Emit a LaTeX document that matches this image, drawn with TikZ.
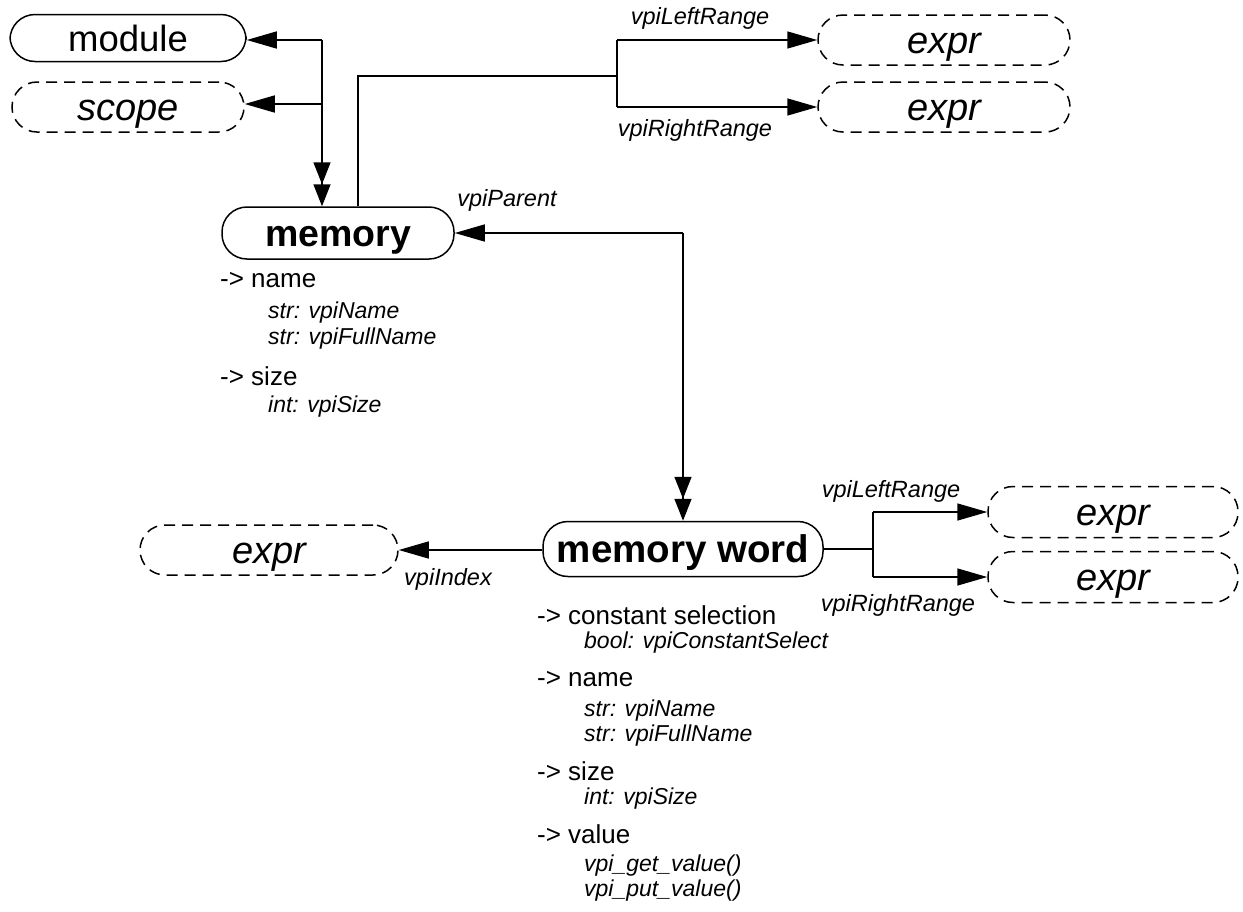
\documentclass[tikz,border=0pt]{standalone}
\usepackage{fontspec}
\setmainfont{Liberation Sans}
\usetikzlibrary{arrows.meta}
\begin{document}
\begin{tikzpicture}[x=1pt,y=-1pt,
  obj/.style={draw,line width=1.5pt,rounded corners=25pt,inner sep=0pt,text height=26pt,text depth=0pt,font=\fontsize{36.5}{40}\selectfont},
  refobj/.style={obj,dashed,dash pattern=on 11pt off 7pt,font=\fontsize{38}{40}\selectfont\itshape},
  lbl/.style={inner sep=0pt,font=\fontsize{23.5}{26}\selectfont\itshape},
  attr/.style={inner sep=0pt,anchor=west,font=\fontsize{26}{30}\selectfont},
  sub/.style={inner sep=0pt,anchor=west,font=\fontsize{23}{26}\selectfont\itshape},
  con/.style={line width=1.5pt},
  arr/.style={con,-{Triangle[length=30pt,width=17pt]}},
  darr/.style={con,-{Triangle[length=22pt,width=17pt,sep=0pt]Triangle[length=22pt,width=17pt]}}
]
\path[use as bounding box] (0,0) rectangle (1243,911);

% nodes
\node[obj,minimum width=236pt,minimum height=47pt] (module) at (128,38) {module};
\node[refobj,minimum width=232pt,minimum height=50pt] (scope) at (128,107) {scope};
\node[obj,minimum width=232pt,minimum height=52pt,font=\fontsize{37.5}{40}\selectfont\bfseries] (memory) at (338,233) {memory};
\node[refobj,minimum width=252pt,minimum height=50pt] (exprLa) at (944,40) {expr};
\node[refobj,minimum width=252pt,minimum height=50pt] (exprLb) at (944,107) {expr};
\node[obj,minimum width=280pt,minimum height=55pt,font=\fontsize{38.5}{40}\selectfont\bfseries] (mword) at (683,549) {memory word};
\node[refobj,minimum width=258pt,minimum height=50pt] (exprIdx) at (269,550) {expr};
\node[refobj,minimum width=250pt,minimum height=51pt] (exprRa) at (1113,512) {expr};
\node[refobj,minimum width=250pt,minimum height=51pt] (exprRb) at (1113,577) {expr};

% junctions
\coordinate (jA) at (322,40);
\coordinate (jB) at (617,76);
\coordinate (jD) at (873,549);

% connectors
\draw[arr] (jA) -- (module.east |- jA);
\draw[arr] (jA |- 0,104) -- (scope.east |- 0,104);
\draw[darr] (jA) -- (jA |- memory.north);
\draw[con] ([xshift=20pt]memory.north) |- (jB);
\draw[con] (jB |- exprLa.west) -- (jB |- exprLb.west);
\draw[arr] (jB |- exprLa.west) -- (exprLa.west);
\draw[arr] (jB |- exprLb.west) -- (exprLb.west);
\draw[arr] (mword.north |- memory.east) -- (memory.east);
\draw[darr] (mword.north |- memory.east) -- (mword.north);
\draw[arr] (mword.west |- exprIdx.east) -- (exprIdx.east);
\draw[con] (mword.east) -- (jD);
\draw[con] (jD |- exprRa.west) -- (jD |- exprRb.west);
\draw[arr] (jD |- exprRa.west) -- (exprRa.west);
\draw[arr] (jD |- exprRb.west) -- (exprRb.west);

% labels
\node[lbl] (l1) at (700,18) {vpiLeftRange};
\node[lbl] (l2) at (695,130) {vpiRightRange};
\node[lbl] (l3) at (507,200) {vpiParent};
\node[lbl] (l4) at (448,579) {vpiIndex};
\node[lbl] (l5) at (891,491) {vpiLeftRange};
\node[lbl] (l6) at (898,605) {vpiRightRange};

% memory attributes
\node[attr] (ma1) at (220,280) {-> name};
\node[sub] (ma2) at (268,313) {str: vpiName};
\node[sub] (ma3) at (268,339) {str: vpiFullName};
\node[attr] (ma4) at (220,376) {-> size};
\node[sub] (ma5) at (268,407) {int: vpiSize};

% memory word attributes
\node[attr] (wa1) at (537,615) {-> constant selection};
\node[sub] (wa2) at (584,643) {bool: vpiConstantSelect};
\node[attr] (wa3) at (537,679) {-> name};
\node[sub] (wa4) at (584,711) {str: vpiName};
\node[sub] (wa5) at (584,736) {str: vpiFullName};
\node[attr] (wa6) at (537,771) {-> size};
\node[sub] (wa7) at (584,799) {int: vpiSize};
\node[attr] (wa8) at (537,834) {-> value};
\node[sub] (wa9) at (584,866) {vpi\_get\_value()};
\node[sub] (wa10) at (584,891) {vpi\_put\_value()};
\end{tikzpicture}
\end{document}
